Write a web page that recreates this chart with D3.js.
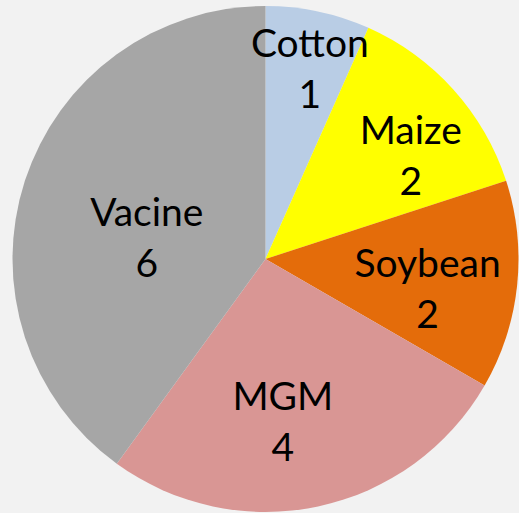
<!DOCTYPE html>
<html>
<head>
<meta charset="utf-8">
<script src="https://cdn.jsdelivr.net/npm/d3@7"></script>
<style>
  html, body { margin: 0; padding: 0; background: #f2f2f2; }
  svg { display: block; }
  text { font-family: Lato, "Open Sans", sans-serif; fill: #000; }
</style>
</head>
<body>
<svg id="chart" width="519" height="513"></svg>
<script>
// chart data
const categories = ['Cotton', 'Maize', 'Soybean', 'MGM', 'Vacine'];
const values = [1, 2, 2, 4, 6];
const colors = ['#b9cde5', '#ffff00', '#e46c0a', '#d99694', '#a6a6a6'];

// label nudges from the arc centroid (layout only)
const labelNudge = [[9, -11], [19, 24], [-7, 25], [-18, 10], [43, 45]];

const width = 519, height = 513;
const cx = 265.5, cy = 259, radius = 253;

const svg = d3.select('#chart');
const g = svg.append('g').attr('transform', `translate(${cx},${cy})`);

const slices = categories.map((c, i) => ({ name: c, value: values[i], color: colors[i], i }));

const pie = d3.pie().sort(null).value(d => d.value);
const arc = d3.arc().innerRadius(0).outerRadius(radius);
const labelArc = d3.arc().innerRadius(170).outerRadius(170);

const arcs = pie(slices);

g.selectAll('path.slice')
  .data(arcs)
  .join('path')
  .attr('class', 'slice')
  .attr('d', arc)
  .attr('fill', d => d.data.color);

const labels = g.selectAll('g.label')
  .data(arcs)
  .join('g')
  .attr('class', 'label')
  .attr('transform', d => {
    let [x, y] = labelArc.centroid(d);
    let [nx, ny] = labelNudge[d.data.i];
    return `translate(${x + nx},${y + ny})`;
  });

labels.append('text')
  .attr('text-anchor', 'middle')
  .attr('y', -25)
  .attr('font-size', 39)
  .text(d => d.data.name);

labels.append('text')
  .attr('text-anchor', 'middle')
  .attr('y', 26)
  .attr('font-size', 39)
  .text(d => d.data.value);
</script>
</body>
</html>
